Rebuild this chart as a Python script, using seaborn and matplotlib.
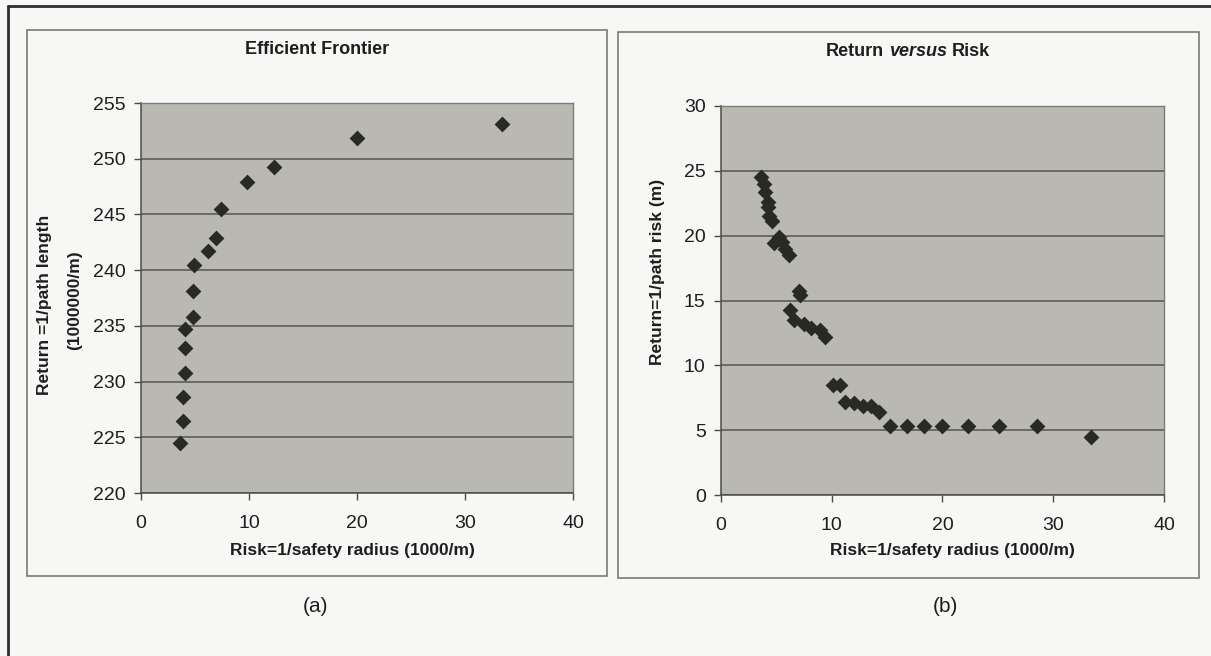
import matplotlib
matplotlib.use("Agg")
import matplotlib.pyplot as plt
import seaborn as sns
from matplotlib.patches import Rectangle
from matplotlib.lines import Line2D

W, H, DPI = 1211, 656, 100

# (a) efficient frontier: risk = 1/safety radius, return = 1/path length
risk_a = [3.6, 3.9, 3.9, 4.1, 4.1, 4.1, 4.8, 4.8, 4.9, 6.2, 6.9, 7.4, 9.8, 12.3, 20.0, 33.4]
return_a = [224.5, 226.5, 228.6, 230.8, 233.0, 234.7, 235.8, 238.1, 240.5, 241.7,
            242.9, 245.5, 247.9, 249.3, 251.9, 253.1]

# (b) return (1/path risk) against risk
risk_b = [3.6, 3.9, 4.0, 4.2, 4.2, 4.3, 4.6, 4.8, 5.2, 5.5, 5.8, 6.1, 7.0, 7.1, 6.2, 6.6,
          7.5, 8.1, 8.9, 9.4, 10.1, 10.7, 11.2, 12.0, 12.8, 13.5, 14.3, 15.3, 16.8, 18.3,
          20.0, 22.3, 25.1, 28.5, 33.4]
return_b = [24.5, 24.0, 23.4, 22.6, 22.2, 21.5, 21.1, 19.4, 19.9, 19.5, 19.0, 18.5, 15.7,
            15.4, 14.3, 13.5, 13.2, 12.9, 12.7, 12.2, 8.5, 8.5, 7.2, 7.1, 6.9, 6.9, 6.4,
            5.3, 5.3, 5.3, 5.3, 5.3, 5.3, 5.3, 4.5]

x_ticks = [0, 10, 20, 30, 40]
y_ticks_a = [220, 225, 230, 235, 240, 245, 250, 255]
y_ticks_b = [0, 5, 10, 15, 20, 25, 30]

PAGE = "#f7f7f5"
PLOT_BG = "#b9b9b1"
GRID = "#55554f"
MARK = "#2a2a24"
AXIS = "#4a4a48"
BOX = "#6e6e6c"
TEXT = "#1e1e1e"

sns.set_theme(style="white")
plt.rcParams["font.family"] = ["Liberation Sans", "DejaVu Sans"]

fig = plt.figure(figsize=(W / DPI, H / DPI), dpi=DPI, facecolor=PAGE)


def fx(x):
    return x / W


def fy(y):
    return 1 - y / H


def axes_at(left, top, right, bottom):
    return fig.add_axes([fx(left), fy(bottom), (right - left) / W, (bottom - top) / H])


def style(ax, yticks):
    ax.set_facecolor(PLOT_BG)
    ax.set_xlim(x_ticks[0], x_ticks[-1])
    ax.set_ylim(yticks[0], yticks[-1])
    ax.set_xticks(x_ticks)
    ax.set_yticks(yticks)
    ax.grid(axis="y", color=GRID, lw=1.1)
    ax.grid(axis="x", visible=False)
    ax.set_axisbelow(True)
    for side in ("left", "bottom"):
        ax.spines[side].set_color(AXIS)
        ax.spines[side].set_linewidth(1.1)
    for side in ("top", "right"):
        ax.spines[side].set_color("#7c7c78")
        ax.spines[side].set_linewidth(1.0)
    ax.tick_params(axis="both", which="major", direction="out", length=5, width=1,
                   color=AXIS, labelsize=14, labelcolor=TEXT, bottom=True, left=True)
    ax.tick_params(axis="x", pad=11)
    ax.tick_params(axis="y", pad=6)
    ax.set_xlabel("")
    ax.set_ylabel("")


# panel frames and the outer frame
fig.add_artist(Rectangle((fx(27), fy(576)), (607 - 27) / W, (576 - 30) / H,
                         transform=fig.transFigure, fill=False, ec=BOX, lw=1.1))
fig.add_artist(Rectangle((fx(618), fy(578)), (1199 - 618) / W, (578 - 32) / H,
                         transform=fig.transFigure, fill=False, ec=BOX, lw=1.1))
fig.add_artist(Line2D([fx(8), 1.0], [fy(6), fy(6)], transform=fig.transFigure,
                      color="#2e2e2e", lw=2))
fig.add_artist(Line2D([fx(8), fx(8)], [fy(6), 0.0], transform=fig.transFigure,
                      color="#2e2e2e", lw=2))

# (a)
ax_a = axes_at(141, 103, 573, 493)
sns.scatterplot(x=risk_a, y=return_a, ax=ax_a, marker="D", s=65, color=MARK,
                linewidth=0, zorder=3, legend=False)
style(ax_a, y_ticks_a)

# (b)
ax_b = axes_at(721, 106, 1164, 495)
sns.scatterplot(x=risk_b, y=return_b, ax=ax_b, marker="D", s=65, color=MARK,
                linewidth=0, zorder=3, legend=False)
style(ax_b, y_ticks_b)

lab = dict(fontsize=12.5, fontweight="bold", color=TEXT, ha="center", va="center")
fig.text(fx(317), fy(49), "Efficient Frontier", **dict(lab, fontsize=13))
fig.text(fx(352), fy(551), "Risk=1/safety radius (1000/m)", **lab)
fig.text(fx(952), fy(551), "Risk=1/safety radius (1000/m)", **lab)
fig.text(fx(45), fy(305), "Return =1/path length", rotation=90, **lab)
fig.text(fx(75), fy(300), "(1000000/m)", rotation=90, **lab)
fig.text(fx(658), fy(272), "Return=1/path risk (m)", rotation=90, **lab)

# title of (b) with an italic middle word
renderer = fig.canvas.get_renderer()
parts = [("Return", "normal"), ("versus", "italic"), ("Risk", "normal")]
kw = dict(fontsize=13, fontweight="bold", color=TEXT, va="center", ha="left")
probe = fig.text(0, 0, "a a", **kw)
probe2 = fig.text(0, 0, "aa", **kw)
space = probe.get_window_extent(renderer).width - probe2.get_window_extent(renderer).width
probe.remove()
probe2.remove()
items = [fig.text(0, 0, s, style=st, **kw) for s, st in parts]
widths = [t.get_window_extent(renderer).width for t in items]
total = sum(widths) + space * (len(items) - 1)
x0 = 908 - total / 2
for t, w in zip(items, widths):
    t.set_position((fx(x0), fy(51)))
    x0 += w + space

fig.text(fx(316), fy(606), "(a)", fontsize=15, color=TEXT, ha="center", va="center")
fig.text(fx(945), fy(606), "(b)", fontsize=15, color=TEXT, ha="center", va="center")

fig.savefig("out.png", dpi=DPI, facecolor=PAGE)
